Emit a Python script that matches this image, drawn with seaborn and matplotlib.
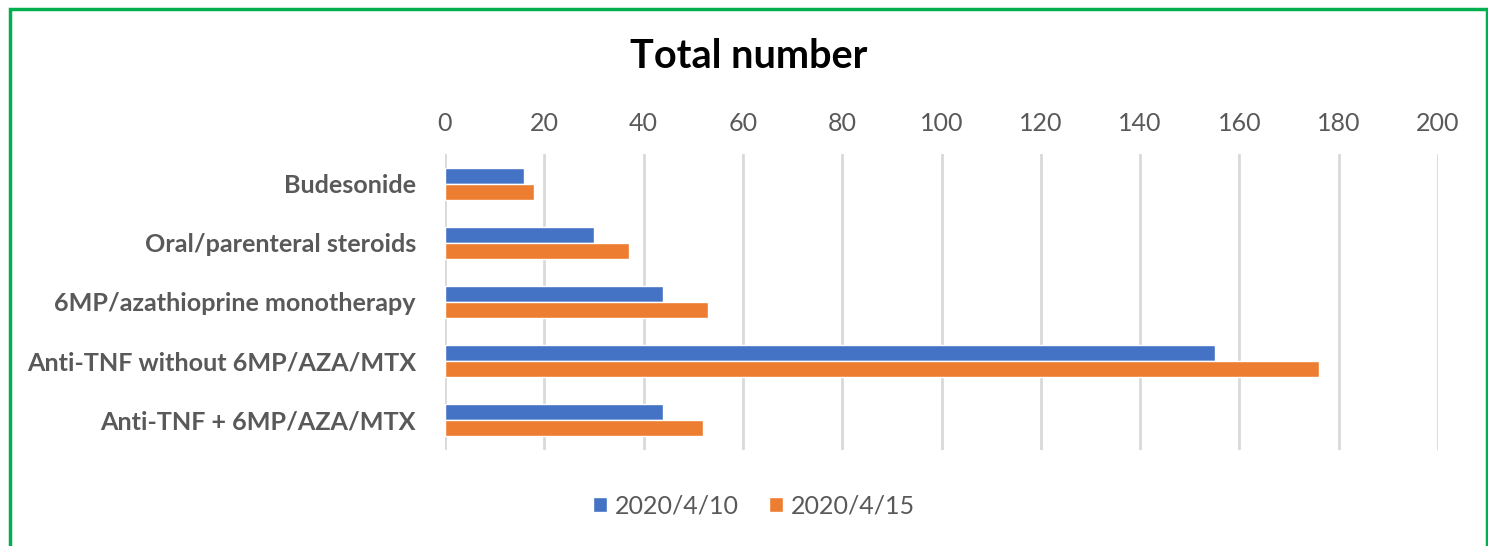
import pandas as pd
import matplotlib.pyplot as plt
import seaborn as sns
from matplotlib.patches import Rectangle

categories = ["Budesonide", "Oral/parenteral steroids", "6MP/azathioprine monotherapy",
              "Anti-TNF without 6MP/AZA/MTX", "Anti-TNF + 6MP/AZA/MTX"]
dates = ["2020/4/10", "2020/4/15"]
counts_0410 = [16, 30, 44, 155, 44]
counts_0415 = [18, 37, 53, 176, 52]
x_ticks = [0, 20, 40, 60, 80, 100, 120, 140, 160, 180, 200]

df = pd.DataFrame({
    "category": categories * 2,
    "date": [dates[0]] * len(categories) + [dates[1]] * len(categories),
    "count": counts_0410 + counts_0415,
})

sns.set_theme(style="white")
plt.rcParams["font.family"] = ["Lato", "DejaVu Sans"]
grey = "#595959"

fig = plt.figure(figsize=(14.88, 5.46), dpi=100)
ax = fig.add_axes([445 / 1488, 1 - 450 / 546, (1438 - 445) / 1488, (450 - 154) / 546])

sns.barplot(data=df, y="category", x="count", hue="date", order=categories,
            hue_order=dates, palette=["#4472C4", "#ED7D31"], orient="h",
            width=0.54, gap=0, saturation=1, ax=ax, legend=True)

ax.set_xlim(0, 200)
ax.set_xticks(x_ticks)
ax.xaxis.tick_top()
ax.tick_params(axis="x", length=0, pad=14, labelsize=18, labelcolor=grey)
ax.tick_params(axis="y", length=0, pad=21, labelsize=18.1, labelcolor=grey)
for lbl in ax.get_yticklabels():
    lbl.set_fontweight("bold")
ax.grid(axis="x", color="#D9D9D9", linewidth=2)
ax.set_axisbelow(True)
for s in ax.spines.values():
    s.set_visible(False)
ax.set_xlabel("")
ax.set_ylabel("")

ax.legend(loc="center", bbox_to_anchor=(754 / 1488, (546 - 506) / 546), bbox_transform=fig.transFigure,
          ncol=2, frameon=False, fontsize=18, labelcolor=grey, handlelength=0.56,
          handleheight=0.56, columnspacing=1.2, handletextpad=0.32)

fig.text(0.503, 1 - 57 / 546, "Total number", ha="center", va="center",
         fontsize=28.5, fontweight="bold", color="black")

fig.add_artist(Rectangle((9.5 / 1488, -0.05), (1486.5 - 9.5) / 1488, 1.05 - 9.5 / 546,
                         transform=fig.transFigure, fill=False,
                         edgecolor="#00B050", linewidth=2.5))

fig.savefig("out.png", dpi=100)
